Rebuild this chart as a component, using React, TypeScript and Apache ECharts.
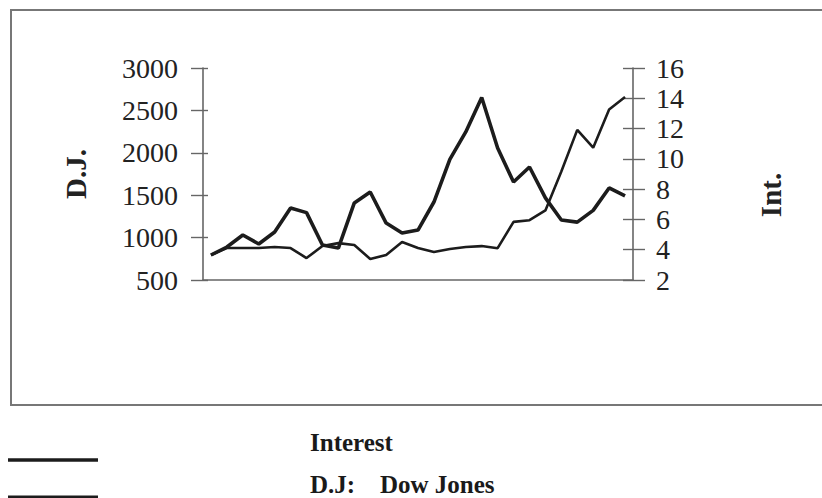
import React, { useEffect, useRef } from "react";
import * as echarts from "echarts";

// Periods along the horizontal axis (no labels shown in the reference)
const periods: string[] = Array.from({ length: 27 }, (_, i) => String(i + 1));

// Interest rate (%), right axis
const interestValues: number[] = [
  3.65, 4.18, 4.97, 4.38, 5.17, 6.76, 6.45, 4.31, 4.11, 7.09, 7.81, 5.76, 5.1, 5.3,
  7.15, 9.97, 11.78, 14.05, 10.72, 8.47, 9.46, 7.42, 5.96, 5.82, 6.6, 8.08, 7.55,
];

// Dow Jones index, left axis
const dowJonesValues: number[] = [
  795, 877, 877, 877, 889, 877, 759, 900, 935, 913, 748, 795, 948, 877,
  830, 865, 890, 900, 875, 1185, 1205, 1320, 1780, 2270, 2060, 2510, 2658,
];

const leftTicks = { min: 500, max: 3000, interval: 500 };
const rightTicks = { min: 2, max: 16, interval: 2 };

const legendLabels = { interest: "Interest", dj: "D.J:", djFull: "Dow Jones" };
const axisTitles = { left: "D.J.", right: "Int." };

export default function App() {
  const ref = useRef<HTMLDivElement>(null);

  useEffect(() => {
    if (!ref.current) return;
    const chart = echarts.init(ref.current, undefined, { renderer: "svg" });
    const serif = "'Liberation Serif', 'Times New Roman', serif";
    const axisGray = "#666";
    const ink = "#1c1c1c";
    const plain = (v: number) => String(v);

    const hiddenAxisBase = {
      type: "value" as const,
      axisLine: { show: false },
      axisLabel: { show: false },
      splitLine: { show: false },
    };

    chart.setOption({
      animation: false,
      backgroundColor: "#fff",
      grid: { left: 203, right: 189, top: 68, bottom: 218 },
      xAxis: {
        type: "category",
        data: periods,
        boundaryGap: true,
        axisLine: { show: true, lineStyle: { color: axisGray, width: 1.6 } },
        axisTick: { show: false },
        axisLabel: { show: false },
        splitLine: { show: false },
      },
      yAxis: [
        {
          type: "value",
          position: "left",
          ...leftTicks,
          axisLine: { show: true, lineStyle: { color: axisGray, width: 1.6 } },
          axisTick: { show: true, length: 12, lineStyle: { color: axisGray, width: 1.4 } },
          axisLabel: {
            fontFamily: serif,
            fontSize: 28,
            color: "#222",
            margin: 25,
            formatter: plain,
          },
          splitLine: { show: false },
        },
        {
          type: "value",
          position: "right",
          ...rightTicks,
          axisLine: { show: true, lineStyle: { color: axisGray, width: 1.6 } },
          axisTick: { show: true, length: 12, lineStyle: { color: axisGray, width: 1.4 } },
          axisLabel: {
            fontFamily: serif,
            fontSize: 28,
            color: "#222",
            margin: 23,
            formatter: plain,
          },
          splitLine: { show: false },
        },
        {
          ...hiddenAxisBase,
          position: "left",
          ...leftTicks,
          axisTick: { show: true, inside: true, length: 5, lineStyle: { color: axisGray, width: 1.4 } },
        },
        {
          ...hiddenAxisBase,
          position: "right",
          ...rightTicks,
          axisTick: { show: true, inside: true, length: 10, lineStyle: { color: axisGray, width: 1.4 } },
        },
      ],
      series: [
        {
          name: "Interest",
          type: "line",
          yAxisIndex: 1,
          data: interestValues,
          showSymbol: false,
          symbol: "none",
          lineStyle: { color: ink, width: 3.6 },
          z: 3,
        },
        {
          name: "D.J.",
          type: "line",
          yAxisIndex: 0,
          data: dowJonesValues,
          showSymbol: false,
          symbol: "none",
          lineStyle: { color: ink, width: 2.6 },
          z: 2,
        },
      ],
      graphic: [
        {
          type: "rect",
          shape: { x: 11, y: 10, width: 830, height: 395 },
          style: { fill: "none", stroke: "#777", lineWidth: 2 },
          silent: true,
          z: -1,
        },
        {
          type: "text",
          x: 76,
          y: 174,
          rotation: Math.PI / 2,
          style: {
            text: axisTitles.left,
            fontFamily: serif,
            fontWeight: "bold",
            fontSize: 29,
            fill: "#222",
            align: "center",
            verticalAlign: "middle",
          },
        },
        {
          type: "text",
          x: 771,
          y: 195,
          rotation: Math.PI / 2,
          style: {
            text: axisTitles.right,
            fontFamily: serif,
            fontWeight: "bold",
            fontSize: 29,
            fill: "#222",
            align: "center",
            verticalAlign: "middle",
          },
        },
        {
          type: "line",
          shape: { x1: 8, y1: 460, x2: 98, y2: 460 },
          style: { stroke: ink, lineWidth: 3.6 },
        },
        {
          type: "line",
          shape: { x1: 8, y1: 497, x2: 98, y2: 497 },
          style: { stroke: ink, lineWidth: 3 },
        },
        {
          type: "text",
          x: 310,
          y: 442,
          style: {
            text: legendLabels.interest,
            fontFamily: serif,
            fontWeight: "bold",
            fontSize: 25,
            fill: "#1a1a1a",
            align: "left",
            verticalAlign: "middle",
          },
        },
        {
          type: "text",
          x: 310,
          y: 484,
          style: {
            text: legendLabels.dj,
            fontFamily: serif,
            fontWeight: "bold",
            fontSize: 25,
            fill: "#1a1a1a",
            align: "left",
            verticalAlign: "middle",
          },
        },
        {
          type: "text",
          x: 380,
          y: 484,
          style: {
            text: legendLabels.djFull,
            fontFamily: serif,
            fontWeight: "bold",
            fontSize: 25,
            fill: "#1a1a1a",
            align: "left",
            verticalAlign: "middle",
          },
        },
      ],
    });

    return () => chart.dispose();
  }, []);

  return (
    <div
      ref={ref}
      style={{ position: "fixed", left: 0, top: 0, width: 822, height: 498 }}
    />
  );
}
